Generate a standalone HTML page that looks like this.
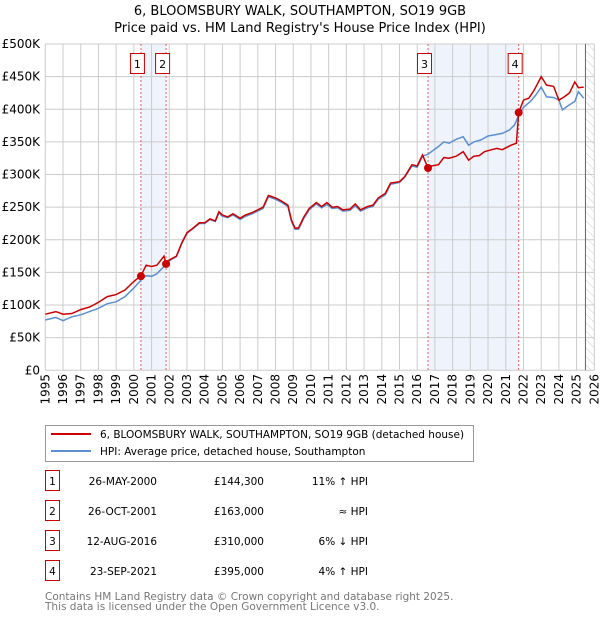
<!DOCTYPE html>
<html><head><meta charset="utf-8"><style>
body{margin:0;background:#fff;font-family:"DejaVu Sans","Liberation Sans",sans-serif;}
svg text{font-family:"DejaVu Sans","Liberation Sans",sans-serif;}
</style></head><body>
<svg id="chart" width="600" height="620" viewBox="0 0 600 620" xmlns="http://www.w3.org/2000/svg">
<text x="300" y="15" text-anchor="middle" font-size="13" fill="#000">6, BLOOMSBURY WALK, SOUTHAMPTON, SO19 9GB</text>
<text x="300" y="32" text-anchor="middle" font-size="13" fill="#000">Price paid vs. HM Land Registry's House Price Index (HPI)</text>
<defs><pattern id="hatch" width="6" height="6" patternUnits="userSpaceOnUse" patternTransform="rotate(-45)"><line x1="0" y1="0" x2="0" y2="6" stroke="#ccc" stroke-width="1"/></pattern></defs>
<g id="plot"></g>
<g>
<rect x="45.5" y="425.5" width="428" height="36" fill="#fff" stroke="#999"/>
<line x1="51" y1="434" x2="91" y2="434" stroke="#cc0000" stroke-width="2"/>
<text x="100" y="438" font-size="10.5">6, BLOOMSBURY WALK, SOUTHAMPTON, SO19 9GB (detached house)</text>
<line x1="51" y1="451" x2="91" y2="451" stroke="#5b8fd0" stroke-width="2"/>
<text x="100" y="455" font-size="10.5">HPI: Average price, detached house, Southampton</text>
</g>
<g id="table" font-size="10.5"></g>
<text x="45" y="600" font-size="10.5" fill="#777">Contains HM Land Registry data © Crown copyright and database right 2025.</text>
<text x="45" y="610" font-size="10.5" fill="#777">This data is licensed under the Open Government Licence v3.0.</text>
</svg>
<script>
const redT=[1995,1995.6,1996,1996.5,1997,1997.5,1998,1998.5,1999,1999.5,2000,2000.4,2000.7,2001,2001.3,2001.7,2001.82,2002,2002.4,2002.7,2003,2003.3,2003.7,2004,2004.3,2004.6,2004.8,2005,2005.3,2005.6,2006,2006.3,2006.7,2007,2007.3,2007.6,2008,2008.3,2008.7,2008.9,2009.1,2009.3,2009.6,2009.9,2010.3,2010.6,2010.9,2011.2,2011.5,2011.8,2012.2,2012.5,2012.8,2013.2,2013.5,2013.8,2014.2,2014.5,2015,2015.3,2015.7,2016,2016.3,2016.61,2016.8,2017.2,2017.5,2017.8,2018.2,2018.6,2018.9,2019.2,2019.5,2019.8,2020.2,2020.5,2020.8,2021.3,2021.6,2021.73,2022,2022.3,2022.6,2023,2023.3,2023.7,2024,2024.3,2024.6,2024.9,2025.1,2025.4];
const redV=[86,90,86,87,93,97,104,113,116,123,136,145,161,159,161,175,163,169,175,195,211,217,226,226,232,229,243,238,235,240,233,238,242,246,250,268,264,260,253,230,218,218,235,248,257,251,257,250,251,246,247,255,246,251,253,264,271,287,289,297,315,313,330,310,313,315,326,325,328,335,322,328,329,335,338,340,338,345,348,395,414,417,429,450,437,435,414,419,425,442,433,434];
const hpiT=[1995,1995.6,1996,1996.5,1997,1997.5,1998,1998.5,1999,1999.5,2000,2000.4,2000.7,2001,2001.3,2001.7,2002,2002.4,2002.7,2003,2003.3,2003.7,2004,2004.3,2004.6,2004.8,2005,2005.3,2005.6,2006,2006.3,2006.7,2007,2007.3,2007.6,2008,2008.3,2008.7,2008.9,2009.1,2009.3,2009.6,2009.9,2010.3,2010.6,2010.9,2011.2,2011.5,2011.8,2012.2,2012.5,2012.8,2013.2,2013.5,2013.8,2014.2,2014.5,2015,2015.3,2015.7,2016,2016.3,2016.6,2016.8,2017.2,2017.5,2017.8,2018.2,2018.6,2018.9,2019.2,2019.6,2020,2020.4,2020.8,2021.2,2021.5,2021.73,2022,2022.4,2022.7,2023,2023.3,2023.7,2024,2024.2,2024.5,2024.9,2025.1,2025.4];
const hpiV=[77,81,76,82,85,90,95,102,105,113,126,138,145,144,148,159,168,174,194,210,216,225,225,231,228,241,236,234,238,231,236,240,244,248,266,262,258,251,228,216,216,233,246,255,249,254,248,249,244,245,252,244,249,251,262,269,285,288,296,313,311,328,331,335,343,350,348,354,358,345,350,353,359,361,363,368,376,391,403,412,422,434,419,418,414,399,405,412,427,417];
const saleT=[2000.4,2001.82,2016.61,2021.73];
const saleV=[144.3,163,310,395];
const saleLabels=["1","2","3","4"];
const saleDates=["26-MAY-2000","26-OCT-2001","12-AUG-2016","23-SEP-2021"];
const salePrices=["£144,300","£163,000","£310,000","£395,000"];
const saleHpi=["11% ↑ HPI","≈ HPI","6% ↓ HPI","4% ↑ HPI"];
const yTicks=[0,50,100,150,200,250,300,350,400,450,500];
const yTickLabels=["£0","£50K","£100K","£150K","£200K","£250K","£300K","£350K","£400K","£450K","£500K"];
const xYears=[];for(let y=1995;y<=2026;y++)xYears.push(y);

const NS="http://www.w3.org/2000/svg";
const X0=45.3,X1=594.3,Y0=370.3,Y1=44;
const xs=t=>X0+(t-1995)/(2026-1995)*(X1-X0);
const ys=v=>Y0-v/500*(Y0-Y1);
const plot=document.getElementById('plot');
function mk(tag,attrs,parent){const e=document.createElementNS(NS,tag);for(const k in attrs)e.setAttribute(k,attrs[k]);(parent||plot).appendChild(e);return e;}

let e;
e=mk('rect',{x:xs(saleT[0]),y:Y1,width:xs(saleT[1])-xs(saleT[0]),height:Y0-Y1,fill:'#eef3fc'});


e=mk('rect',{x:xs(saleT[2]),y:Y1,width:xs(saleT[3])-xs(saleT[2]),height:Y0-Y1,fill:'#eef3fc'});


const fut=xs(2025.5);
e=mk('rect',{x:fut,y:Y1,width:X1-fut,height:Y0-Y1,fill:'url(#hatch)'});


yTicks.forEach((v,i)=>{
  e=mk('line',{x1:X0,x2:X1,y1:ys(v),y2:ys(v),stroke:'#ccc','stroke-width':1});
  
  
  e=mk('text',{x:40,y:ys(v)+4,'text-anchor':'end','font-size':12});
  e.textContent=yTickLabels[i];
  
  
});
xYears.forEach(y=>{
  e=mk('line',{x1:xs(y),x2:xs(y),y1:Y1,y2:Y0,stroke:'#ccc','stroke-width':1});
  
  
  e=mk('text',{x:0,y:0,'font-size':12,'text-anchor':'end',transform:`translate(${xs(y)+4},374) rotate(-90)`});
  e.textContent=y;
  
  
});
e=mk('line',{x1:fut,x2:fut,y1:Y1,y2:Y0,stroke:'#666','stroke-width':1});


saleT.forEach((t,i)=>{
  e=mk('line',{x1:xs(t),x2:xs(t),y1:Y1,y2:Y0,stroke:'#e06060','stroke-width':1,'stroke-dasharray':'2,2'});
  
  
  e=mk('rect',{x:xs(t)-10.5,y:53.5,width:14,height:20,fill:'#fff',stroke:'#cc0000'});
  
  
  e=mk('text',{x:xs(t)-3.5,y:68,'text-anchor':'middle','font-size':11});
  e.textContent=saleLabels[i];
  
  
});
const pts=(T,V)=>T.map((t,i)=>xs(t).toFixed(1)+','+ys(V[i]).toFixed(1)).join(' ');
e=mk('polyline',{points:pts(hpiT,hpiV),fill:'none',stroke:'#5b8fd0','stroke-width':1.5});


e=mk('polyline',{points:pts(redT,redV),fill:'none',stroke:'#cc0000','stroke-width':1.5});


saleT.forEach((t,i)=>{
  e=mk('circle',{cx:xs(t),cy:ys(saleV[i]),r:4,fill:'#cc0000'});
  
  
});
const tb=document.getElementById('table');
saleLabels.forEach((l,i)=>{
  const y=483+i*30;
  e=mk('rect',{x:45.5,y:y-12.5,width:14,height:20,fill:'#fff',stroke:'#cc0000'},tb);
  
  
  e=mk('text',{x:52.5,y:y+2,'text-anchor':'middle'},tb);e.textContent=l;
  
  
  e=mk('text',{x:157,y:y+2,'text-anchor':'end'},tb);e.textContent=saleDates[i];
  
  
  e=mk('text',{x:264,y:y+2,'text-anchor':'end'},tb);e.textContent=salePrices[i];
  
  
  e=mk('text',{x:368,y:y+2,'text-anchor':'end'},tb);e.textContent=saleHpi[i];
  
  
});
</script>
</body></html>
